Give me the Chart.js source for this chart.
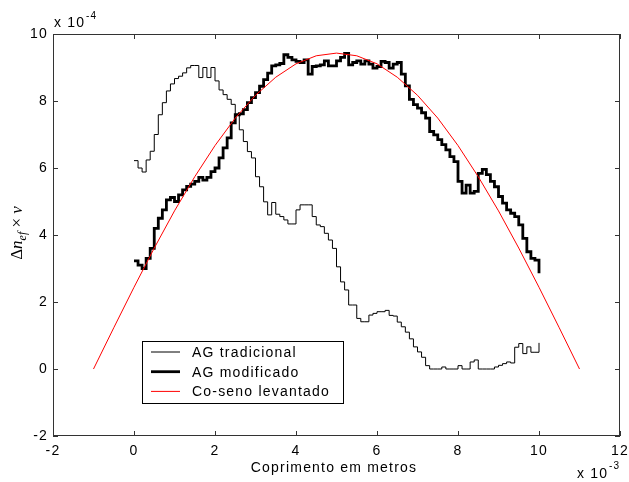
<!DOCTYPE html>
<html>
<head>
<meta charset="utf-8">
<script src="https://cdn.jsdelivr.net/npm/chart.js@4.4.1/dist/chart.umd.min.js"></script>
<style>
  html, body { margin: 0; padding: 0; background: #fff; }
  canvas { display: block; }
</style>
</head>
<body>
<canvas id="grafico" width="629" height="482"></canvas>
<script>
// eixo x dos degraus: 0 ... 10 (x 10^-3), passo 0.1
const xInicio = 0;
const xPasso = 0.1;

// AG tradicional (linha fina)
const agTradicional = [
  6.22, 6.0, 5.88, 6.24, 6.5, 7.0, 7.59, 7.95, 8.3, 8.51,
  8.67, 8.74, 8.84, 8.99, 9.06, 9.06, 8.7, 9.0, 8.7, 9.0,
  8.6, 8.33, 8.19, 8.05, 7.9, 7.6, 7.14, 6.79, 6.49, 6.3,
  5.74, 5.44, 4.99, 4.6, 4.97, 4.62, 4.55, 4.45, 4.33, 4.33,
  4.75, 4.9, 4.9, 4.9, 4.55, 4.3, 4.25, 4.05, 3.85, 3.6,
  3.05, 2.6, 2.36, 1.91, 1.91, 1.51, 1.41, 1.41, 1.61, 1.66,
  1.71, 1.71, 1.75, 1.6, 1.58, 1.4, 1.26, 1.1, 0.9, 0.66,
  0.51, 0.35, 0.1, 0, 0, 0, 0.06, 0, 0, 0,
  0.1, 0, 0, 0.21, 0.27, 0, 0, 0, 0, 0.06,
  0.11, 0.16, 0.21, 0.18, 0.65, 0.76, 0.46, 0.66, 0.5, 0.5,
  0.78
];

// AG modificado (linha grossa)
const agModificado = [
  3.23, 3.1, 3.0, 3.3, 3.6, 4.2, 4.5, 4.75, 5.05, 5.12,
  5.0, 5.2, 5.35, 5.45, 5.52, 5.6, 5.72, 5.64, 5.72, 5.89,
  6.0, 6.3, 6.6, 6.9, 7.35, 7.59, 7.62, 7.74, 7.95, 8.1,
  8.25, 8.44, 8.64, 8.83, 9.05, 9.08, 9.12, 9.38, 9.3, 9.23,
  9.18, 9.15, 9.23, 8.8, 9.03, 9.05, 9.08, 9.2, 9.05, 9.05,
  9.2, 9.3, 9.42, 9.08, 9.15, 9.2, 9.1, 9.2, 9.1, 8.98,
  9.03, 9.18, 9.15, 8.98, 9.1, 9.15, 8.8, 8.45, 8.05, 7.89,
  7.79, 7.65, 7.49, 7.09, 6.99, 6.85, 6.7, 6.54, 6.34, 6.19,
  5.6, 5.25, 5.49, 5.25, 5.3, 5.84, 5.96, 5.8, 5.6, 5.44,
  5.15, 4.95, 4.75, 4.65, 4.55, 4.3, 3.9, 3.5, 3.3, 3.25,
  2.86
];

// Co-seno levantado (vermelho)
const cossenoX = [-1, -0.5, 0, 0.5, 1, 1.5, 2, 2.5, 3, 3.5, 4, 4.5, 5,
                  5.5, 6, 6.5, 7, 7.5, 8, 8.5, 9, 9.5, 10, 10.5, 11];
const cossenoY = [0, 1.23, 2.44, 3.61, 4.72, 5.74, 6.67, 7.49, 8.17, 8.71, 9.11, 9.35, 9.43,
                  9.35, 9.11, 8.71, 8.17, 7.49, 6.67, 5.74, 4.72, 3.61, 2.44, 1.23, 0];

const ticksX = [-2, 0, 2, 4, 6, 8, 10, 12];
const ticksY = [-2, 0, 2, 4, 6, 8, 10];

const fonte = '"Liberation Sans", Arial, sans-serif';

function degraus(valores) {
  return valores.map((v, i) => ({ x: Math.round((xInicio + i * xPasso) * 10) / 10, y: v }));
}

// moldura, ticks internos, legenda e textos extras
const extrasPlugin = {
  id: 'extras',
  beforeDraw(chart) {
    chart.ctx.letterSpacing = '1.2px';
  },
  afterDatasetsDraw(chart) {
    const { ctx, chartArea: a, scales: { x, y } } = chart;
    ctx.save();
    ctx.strokeStyle = '#333';
    ctx.lineWidth = 1;
    ctx.strokeRect(a.left + 0.5, a.top + 0.5, a.right - a.left - 1, a.bottom - a.top - 1);
    ctx.beginPath();
    ticksX.forEach(v => {
      const px = Math.round(x.getPixelForValue(v)) + 0.5;
      ctx.moveTo(px, a.top); ctx.lineTo(px, a.top + 5);
      ctx.moveTo(px, a.bottom); ctx.lineTo(px, a.bottom - 5);
    });
    ticksY.forEach(v => {
      const py = Math.round(y.getPixelForValue(v)) + 0.5;
      ctx.moveTo(a.left, py); ctx.lineTo(a.left + 5, py);
      ctx.moveTo(a.right, py); ctx.lineTo(a.right - 5, py);
    });
    ctx.stroke();

    // legenda
    const lx = 142, ly = 341, lw = 201, lh = 62;
    ctx.fillStyle = '#fff';
    ctx.fillRect(lx, ly, lw, lh);
    ctx.strokeStyle = '#000';
    ctx.strokeRect(lx + 0.5, ly + 0.5, lw, lh);
    ctx.font = '14px ' + fonte;
    ctx.textBaseline = 'middle';
    ctx.textAlign = 'left';
    chart.data.datasets.forEach((ds, i) => {
      const yy = 352 + i * 19.7;
      ctx.strokeStyle = ds.borderColor;
      ctx.lineWidth = ds.borderWidth;
      ctx.beginPath();
      ctx.moveTo(151, yy); ctx.lineTo(180, yy);
      ctx.stroke();
      ctx.fillStyle = '#000';
      ctx.fillText(ds.label, 192, yy + 1);
    });

    // multiplicadores dos eixos
    ctx.fillStyle = '#000';
    ctx.textBaseline = 'alphabetic';
    ctx.font = '14px ' + fonte;
    ctx.fillText('x 10', 54, 27);
    ctx.font = '10px ' + fonte;
    ctx.fillText('-4', 86, 19);
    ctx.font = '14px ' + fonte;
    ctx.fillText('x 10', 577, 478);
    ctx.font = '10px ' + fonte;
    ctx.fillText('-3', 609, 469);

    // titulo do eixo x
    ctx.font = '14px ' + fonte;
    ctx.textAlign = 'center';
    ctx.fillText('Coprimento em metros', 334, 472);

    // titulo do eixo y
    ctx.translate(22, 233);
    ctx.rotate(-Math.PI / 2);
    ctx.textAlign = 'left';
    const partes = [
      { t: 'Δ', f: '17px "Liberation Serif", serif', dy: 0 },
      { t: 'n', f: 'italic 17px "Liberation Serif", serif', dy: 0 },
      { t: 'ef', f: 'italic 12px "Liberation Serif", serif', dy: 4 },
      { t: ' × ', f: '17px "Liberation Serif", serif', dy: 0 },
      { t: 'ν', f: 'italic 17px "Liberation Serif", serif', dy: 0 }
    ];
    ctx.letterSpacing = '0px';
    let total = 0;
    partes.forEach(p => { ctx.font = p.f; total += ctx.measureText(p.t).width; });
    let cx = -total / 2;
    partes.forEach(p => {
      ctx.font = p.f;
      ctx.fillText(p.t, cx, p.dy);
      cx += ctx.measureText(p.t).width;
    });
    ctx.restore();
  }
};

new Chart(document.getElementById('grafico'), {
  type: 'line',
  data: {
    datasets: [
      {
        label: 'AG tradicional',
        data: degraus(agTradicional),
        borderColor: '#000',
        borderWidth: 1,
        stepped: 'before',
        pointRadius: 0,
        order: 3
      },
      {
        label: 'AG modificado',
        data: degraus(agModificado),
        borderColor: '#000',
        borderWidth: 2.8,
        stepped: 'before',
        pointRadius: 0,
        order: 2
      },
      {
        label: 'Co-seno levantado',
        data: cossenoX.map((v, i) => ({ x: v, y: cossenoY[i] })),
        borderColor: '#ff0000',
        borderWidth: 1,
        tension: 0,
        pointRadius: 0,
        order: 1
      }
    ]
  },
  options: {
    responsive: false,
    animation: false,
    layout: { padding: { top: 34, right: 9, left: 0, bottom: 0 } },
    plugins: {
      legend: { display: false },
      tooltip: { enabled: false }
    },
    scales: {
      x: {
        type: 'linear',
        min: -2,
        max: 12,
        grid: { display: false, drawTicks: false },
        border: { display: false },
        afterBuildTicks: s => { s.ticks = ticksX.map(v => ({ value: v })); },
        afterFit: s => { s.height = 46; s.paddingLeft = 0; s.paddingRight = 0; },
        ticks: {
          autoSkip: false,
          maxRotation: 0,
          padding: 7,
          color: '#000',
          font: { family: fonte, size: 14 }
        }
      },
      y: {
        type: 'linear',
        min: -2,
        max: 10,
        grid: { display: false, drawTicks: false },
        border: { display: false },
        afterBuildTicks: s => { s.ticks = ticksY.map(v => ({ value: v })); },
        afterFit: s => { s.width = 53; s.paddingTop = 0; s.paddingBottom = 0; },
        ticks: {
          autoSkip: false,
          padding: 5,
          color: '#000',
          font: { family: fonte, size: 14 }
        }
      }
    }
  },
  plugins: [extrasPlugin]
});
</script>
</body>
</html>
